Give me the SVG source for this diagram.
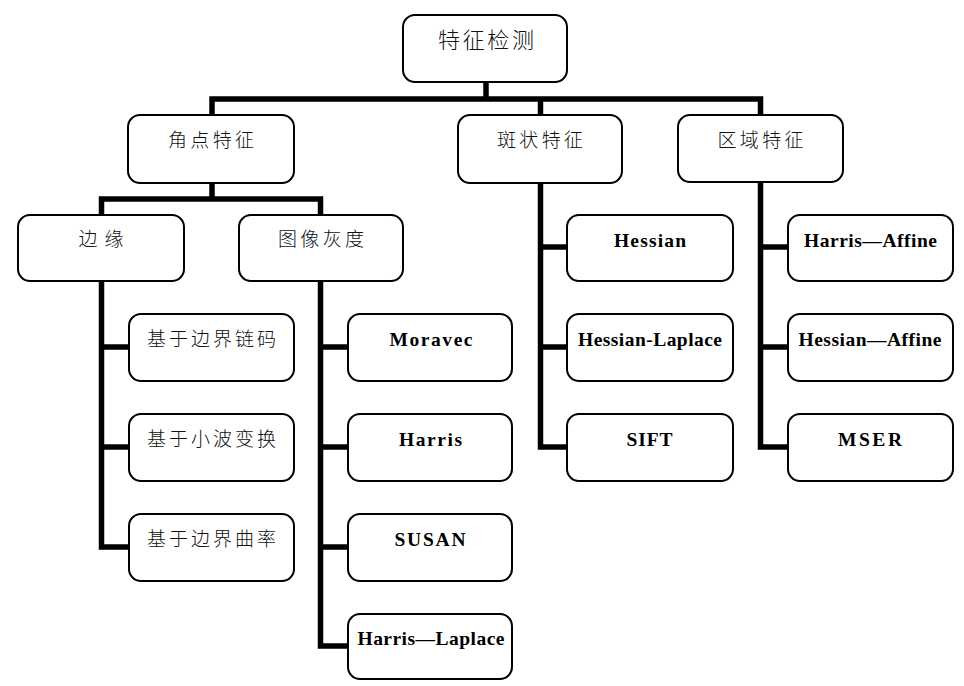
<svg xmlns="http://www.w3.org/2000/svg" width="964" height="686" viewBox="0 0 964 686">
<style>
  .box { fill: #ffffff; stroke: #000000; stroke-width: 2; }
  .conn { fill: none; stroke: #000000; stroke-width: 5.5; stroke-linejoin: miter; stroke-linecap: butt; }
  .zh { font-family: "Noto Sans CJK SC", "Noto Sans CJK JP", sans-serif; font-size: 19px; font-weight: 300; fill: #111111; text-anchor: middle; }
  .en { font-family: "Liberation Serif", "Times New Roman", serif; font-size: 19.5px; font-weight: bold; fill: #000000; text-anchor: middle; }
</style>
<rect width="964" height="686" fill="#ffffff"/>
<g id="connectors">
  <path class="conn" d="M486,83 V99"/>
  <path class="conn" d="M212,115 V99 H760.5 V115"/>
  <path class="conn" d="M540.5,99 V115"/>
  <path class="conn" d="M212,183 V199"/>
  <path class="conn" d="M101.5,215 V199 H320.5 V215"/>
  <path class="conn" d="M101.5,281 V547 H129"/>
  <path class="conn" d="M101.5,347 H129"/>
  <path class="conn" d="M101.5,447 H129"/>
  <path class="conn" d="M320.5,281 V646 H348"/>
  <path class="conn" d="M320.5,347 H348"/>
  <path class="conn" d="M320.5,447 H348"/>
  <path class="conn" d="M320.5,547 H348"/>
  <path class="conn" d="M540.5,183 V447 H567"/>
  <path class="conn" d="M540.5,247 H567"/>
  <path class="conn" d="M540.5,347 H567"/>
  <path class="conn" d="M760.5,182 V447 H788"/>
  <path class="conn" d="M760.5,247 H788"/>
  <path class="conn" d="M760.5,347 H788"/>
</g>
<g id="root"><rect class="box" x="403" y="15" width="164" height="67" rx="12"/><text class="zh" x="486" y="48" style="font-size:22px" textLength="96" lengthAdjust="spacing">特征检测</text></g>
<g id="corner"><rect class="box" x="128" y="115" width="166" height="68" rx="12"/><text class="zh" x="211" y="147" textLength="86" lengthAdjust="spacing">角点特征</text></g>
<g id="blob"><rect class="box" x="458" y="115" width="164" height="68" rx="12"/><text class="zh" x="540" y="147" textLength="86" lengthAdjust="spacing">斑状特征</text></g>
<g id="region"><rect class="box" x="678" y="115" width="165" height="67" rx="12"/><text class="zh" x="760.5" y="147" textLength="86" lengthAdjust="spacing">区域特征</text></g>
<g id="edge"><rect class="box" x="18" y="215" width="166" height="66" rx="12"/><text class="zh" x="101" y="246" textLength="45" lengthAdjust="spacing">边缘</text></g>
<g id="gray"><rect class="box" x="239" y="215" width="164" height="66" rx="12"/><text class="zh" x="321" y="246" textLength="86" lengthAdjust="spacing">图像灰度</text></g>
<g id="hessian"><rect class="box" x="567" y="215" width="166" height="66" rx="12"/><text class="en" x="650" y="247" textLength="72" lengthAdjust="spacing">Hessian</text></g>
<g id="harris-affine"><rect class="box" x="788" y="215" width="165" height="66" rx="12"/><text class="en" x="870.5" y="247" textLength="133" lengthAdjust="spacing">Harris—Affine</text></g>
<g id="chain"><rect class="box" x="129" y="314" width="165" height="67" rx="12"/><text class="zh" x="211.5" y="346" textLength="129" lengthAdjust="spacing">基于边界链码</text></g>
<g id="wavelet"><rect class="box" x="129" y="414" width="165" height="67" rx="12"/><text class="zh" x="211.5" y="446" textLength="129" lengthAdjust="spacing">基于小波变换</text></g>
<g id="curvature"><rect class="box" x="129" y="514" width="165" height="67" rx="12"/><text class="zh" x="211.5" y="546" textLength="129" lengthAdjust="spacing">基于边界曲率</text></g>
<g id="moravec"><rect class="box" x="348" y="314" width="164" height="67" rx="12"/><text class="en" x="431" y="346" textLength="83" lengthAdjust="spacing">Moravec</text></g>
<g id="harris"><rect class="box" x="348" y="414" width="164" height="67" rx="12"/><text class="en" x="430.5" y="446" textLength="63" lengthAdjust="spacing">Harris</text></g>
<g id="susan"><rect class="box" x="348" y="514" width="164" height="67" rx="12"/><text class="en" x="430" y="546" textLength="71" lengthAdjust="spacing">SUSAN</text></g>
<g id="harris-laplace"><rect class="box" x="348" y="614" width="164" height="65" rx="12"/><text class="en" x="431" y="645" textLength="147" lengthAdjust="spacing">Harris—Laplace</text></g>
<g id="hessian-laplace"><rect class="box" x="567" y="314" width="166" height="67" rx="12"/><text class="en" x="650" y="346" textLength="144" lengthAdjust="spacing">Hessian-Laplace</text></g>
<g id="sift"><rect class="box" x="567" y="414" width="166" height="67" rx="12"/><text class="en" x="649.5" y="446" textLength="46" lengthAdjust="spacing">SIFT</text></g>
<g id="hessian-affine"><rect class="box" x="788" y="314" width="165" height="67" rx="12"/><text class="en" x="870" y="346" textLength="143" lengthAdjust="spacing">Hessian—Affine</text></g>
<g id="mser"><rect class="box" x="788" y="414" width="165" height="67" rx="12"/><text class="en" x="870" y="446" textLength="64" lengthAdjust="spacing">MSER</text></g>
</svg>
